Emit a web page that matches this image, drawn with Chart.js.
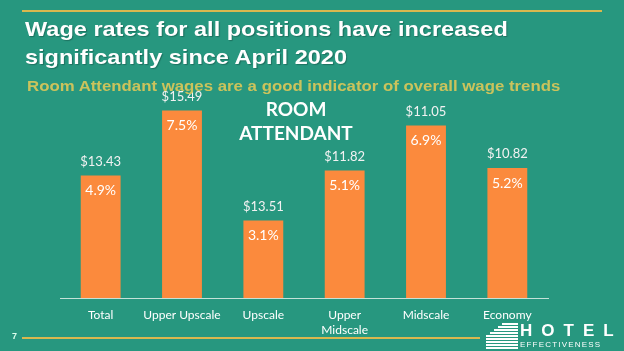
<!DOCTYPE html>
<html>
<head>
<meta charset="utf-8">
<script src="https://cdn.jsdelivr.net/npm/chart.js@4"></script>
<style>
  html, body { margin: 0; padding: 0; }
  body { width: 624px; height: 351px; background: #27977f; position: relative; overflow: hidden; font-family: "Liberation Sans", Arial, sans-serif; }
  #grafico { position: absolute; left: 0; top: 0; }
  .linea { position: absolute; height: 2px; background: #d9b84e; }
  .titulo { position: absolute; left: 25px; top: 15px; color: #fff; font-weight: bold; font-size: 21px; line-height: 28px; white-space: nowrap; transform: scaleX(1.12); transform-origin: left top; text-shadow: 1px 1px 1px rgba(0,0,0,0.25); }
  .subtitulo { position: absolute; left: 27px; top: 77px; color: #cbc35c; font-weight: bold; font-size: 15px; white-space: nowrap; transform: scaleX(1.12); transform-origin: left top; }
  .room { position: absolute; left: 236px; top: 97px; width: 120px; text-align: center; color: #fff; font-family: Lato, sans-serif; font-weight: bold; font-size: 19px; line-height: 24px; }
  .pagina { position: absolute; left: 12px; top: 331px; color: #dfe; font-size: 9px; font-weight: bold; }
  .logo { position: absolute; left: 484px; top: 322px; width: 140px; height: 29px; color: #fff; }
  .logo .hotel { position: absolute; left: 36px; top: -1px; font-family: "Liberation Sans", sans-serif; font-size: 17px; font-weight: bold; letter-spacing: 9px; }
  .logo .efect { position: absolute; left: 36px; top: 18px; font-size: 8px; letter-spacing: 1.2px; }
  .logo .icono div { position: absolute; height: 1.5px; background: #fff; }
</style>
</head>
<body>
<canvas id="grafico" width="624" height="371"></canvas>
<div class="linea" style="left:22px; top:337px; width:458px;"></div>
<div class="linea" style="left:22px; top:10px; width:580px;"></div>
<div class="titulo">Wage rates for all positions have increased<br>significantly since April 2020</div>
<div class="subtitulo">Room Attendant wages are a good indicator of overall wage trends</div>
<div class="room">ROOM<br>ATTENDANT</div>
<div class="pagina">7</div>
<div class="logo">
  <div class="icono" id="icono"></div>
  <div class="hotel">HOTEL</div>
  <div class="efect">EFFECTIVENESS</div>
</div>
<script>
// DATOS
const segmentos = ["Total", "Upper Upscale", "Upscale", ["Upper", "Midscale"], "Midscale", "Economy"]
const salarios = ["$13.43", "$15.49", "$13.51", "$11.82", "$11.05", "$10.82"]
const aumentos = [4.9, 7.5, 3.1, 5.1, 6.9, 5.2]

// icono del logo (líneas de edificio)
const icono = document.getElementById("icono")
for (let i = 0; i < 9; i++) {
    const l = document.createElement("div")
    const ancho = 16 + Math.min(i, 4) * 4
    l.style.left = (34 - ancho) + "px"
    l.style.top = (1 + i * 3) + "px"
    l.style.width = ancho + "px"
    icono.appendChild(l)
}

// etiquetas sobre y dentro de las barras
const etiquetas = {
    id: "etiquetas",
    afterDatasetsDraw(chart) {
        const ctx = chart.ctx
        const meta = chart.getDatasetMeta(0)
        ctx.save()
        ctx.textAlign = "center"
        ctx.textBaseline = "middle"
        meta.data.forEach((barra, i) => {
            ctx.fillStyle = "#f2f2f2"
            ctx.font = "13px Lato"
            ctx.fillText(salarios[i], barra.x, barra.y - 14)
            ctx.fillStyle = "#ffffff"
            ctx.font = "14px Lato"
            ctx.fillText(aumentos[i].toFixed(1) + "%", barra.x, barra.y + 15)
        })
        ctx.restore()
    }
}

new Chart(document.getElementById("grafico"), {
    type: "bar",
    data: {
        labels: segmentos,
        datasets: [{
            data: aumentos,
            backgroundColor: "#fb8a3d",
            barPercentage: 0.49,
            categoryPercentage: 1,
        }],
    },
    options: {
        responsive: false,
        animation: false,
        layout: { padding: { left: 60, right: 76, top: 98, bottom: 31 } },
        scales: {
            x: {
                grid: { display: false },
                border: { display: true, color: "rgba(225,238,232,0.85)", width: 1 },
                ticks: {
                    color: "#ffffff",
                    padding: 2,
                    maxRotation: 0,
                    autoSkip: false,
                    font: { family: "Lato", size: 12, lineHeight: 1.25 },
                },
            },
            y: { display: false, min: 0, max: 8 },
        },
        plugins: {
            legend: { display: false },
            tooltip: { enabled: false },
        },
    },
    plugins: [etiquetas],
})
</script>
</body>
</html>
